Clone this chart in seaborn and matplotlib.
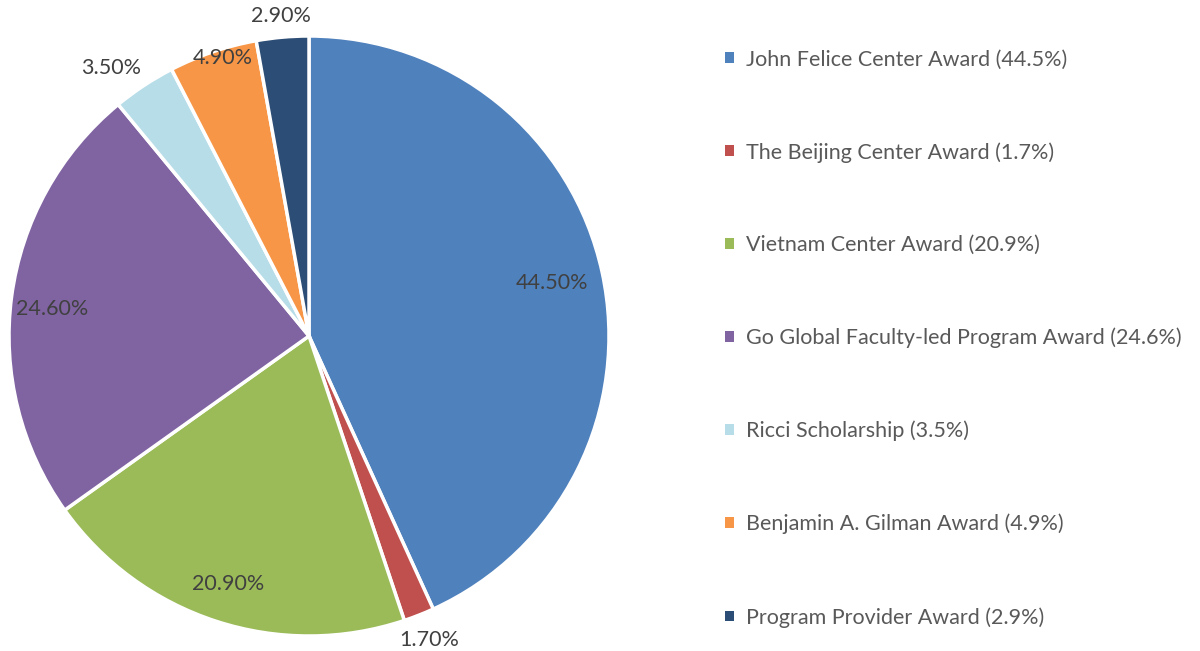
import numpy as np
import matplotlib
matplotlib.use("Agg")
import matplotlib.pyplot as plt
import seaborn as sns
from matplotlib.patches import Patch

# Data
awards = [
    "John Felice Center Award",
    "The Beijing Center Award",
    "Vietnam Center Award",
    "Go Global Faculty-led Program Award",
    "Ricci Scholarship",
    "Benjamin A. Gilman Award",
    "Program Provider Award",
]
shares = [44.5, 1.7, 20.9, 24.6, 3.5, 4.9, 2.9]
pct_labels = ["44.50%", "1.70%", "20.90%", "24.60%", "3.50%", "4.90%", "2.90%"]
legend_labels = [f"{a} ({s}%)" for a, s in zip(awards, shares)]

colors = sns.color_palette(["#4F81BD", "#C0504D", "#9BBB59", "#8064A2",
                            "#B7DDE8", "#F79646", "#2C4D75"])

sns.set_theme(style="white")
plt.rcParams["font.family"] = ["Lato", "DejaVu Sans"]

fig = plt.figure(figsize=(12, 6.51), dpi=100)
ax = fig.add_axes([9 / 1200, 15 / 651, 600 / 1200, 600 / 651])

wedges, _ = ax.pie(shares, colors=colors, startangle=90, counterclock=False,
                   wedgeprops=dict(edgecolor="white", linewidth=2.5))
ax.set_xlim(-1, 1)
ax.set_ylim(-1, 1)
ax.set_aspect("equal")
ax.axis("off")

# label radius / angle nudge per wedge (inside vs outside labels)
label_r = [0.83, 1.09, 0.87, 0.86, 1.11, 0.97, 1.07]
label_da = [0, 0, 0, 1.5, 3, -1.5, 0]
for w, txt, r, da in zip(wedges, pct_labels, label_r, label_da):
    ang = np.deg2rad((w.theta1 + w.theta2) / 2 + da)
    ax.text(r * np.cos(ang), r * np.sin(ang), txt, ha="center", va="center",
            fontsize=15.5, color="#404040", clip_on=False)

handles = [Patch(facecolor=c, edgecolor="none") for c in colors]
fig.legend(handles, legend_labels, loc="upper left",
           bbox_to_anchor=(706 / 1200, 1 - 30 / 651), frameon=False,
           fontsize=15.5, labelcolor="#595959", handlelength=0.4,
           handleheight=0.4, handletextpad=0.55, labelspacing=3.37)

fig.savefig("out.png", dpi=100)
